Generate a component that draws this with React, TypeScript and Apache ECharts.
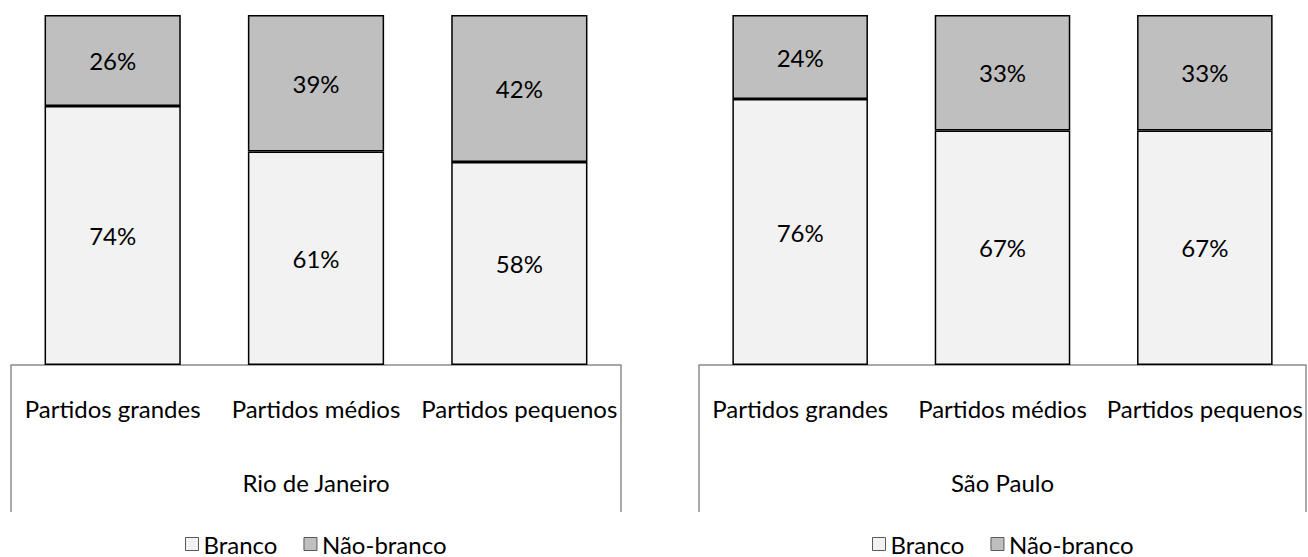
import React, { useEffect, useRef } from "react";
import * as echarts from "echarts";

// Party size categories shown under each state
const categories = ["Partidos grandes", "Partidos médios", "Partidos pequenos"];
const states = ["Rio de Janeiro", "São Paulo"];
const seriesNames = ["Branco", "Não-branco"];

// Share of candidates (%) by race
const rioBranco = [74, 61, 58];
const rioNaoBranco = [26, 39, 42];
const spBranco = [76, 67, 67];
const spNaoBranco = [24, 33, 33];

const FONT = "Lato, 'Open Sans', sans-serif";
const TEXT_SIZE = 24;
const LIGHT = "#f2f2f2";
const DARK = "#bfbfbf";
const FRAME = "#8c8c8c";

// Layout of the two panels
const PANELS = [
  { left: 11, width: 610 },
  { left: 699, width: 607 },
];
const GRID_TOP = 15;
const GRID_HEIGHT = 350;
const FRAME_BOTTOM = 512;

export default function App() {
  const ref = useRef<HTMLDivElement>(null);

  useEffect(() => {
    document.body.style.margin = "0";
    if (!ref.current) return;
    const chart = echarts.init(ref.current, undefined, { renderer: "svg" });

    const values = [
      [rioBranco, rioNaoBranco],
      [spBranco, spNaoBranco],
    ];

    const series: any[] = [];
    values.forEach((pair, gi) => {
      pair.forEach((data, si) => {
        series.push({
          type: "bar",
          name: seriesNames[si],
          xAxisIndex: gi,
          yAxisIndex: gi,
          stack: "total" + gi,
          data,
          barCategoryGap: "33%",
          itemStyle: {
            color: si === 0 ? LIGHT : DARK,
            borderColor: "#000",
            borderWidth: 1.5,
          },
          label: {
            show: true,
            position: "inside",
            formatter: "{c}%",
            color: "#000",
            fontFamily: FONT,
            fontSize: TEXT_SIZE,
          },
          emphasis: { disabled: true },
        });
      });
    });

    const axisBottom = GRID_TOP + GRID_HEIGHT;
    const frameLines: any[] = [];
    PANELS.forEach((p) => {
      [p.left, p.left + p.width].forEach((x) => {
        frameLines.push({
          type: "line",
          shape: { x1: x, y1: axisBottom, x2: x, y2: FRAME_BOTTOM },
          style: { stroke: FRAME, lineWidth: 1.5 },
          silent: true,
        });
      });
    });

    chart.setOption({
      animation: false,
      grid: PANELS.map((p) => ({
        left: p.left,
        width: p.width,
        top: GRID_TOP,
        height: GRID_HEIGHT,
      })),
      xAxis: PANELS.map((_, gi) => ({
        type: "category",
        gridIndex: gi,
        data: categories,
        axisLine: { show: true, lineStyle: { color: FRAME, width: 1.5 } },
        axisTick: { show: false },
        axisLabel: {
          margin: 43,
          verticalAlign: "middle",
          color: "#000",
          fontFamily: FONT,
          fontSize: TEXT_SIZE,
          interval: 0,
        },
        name: states[gi],
        nameLocation: "middle",
        nameGap: 117,
        nameTextStyle: {
          color: "#000",
          fontFamily: FONT,
          fontSize: TEXT_SIZE,
          verticalAlign: "middle",
        },
      })),
      yAxis: PANELS.map((_, gi) => ({
        type: "value",
        gridIndex: gi,
        min: 0,
        max: 100,
        show: false,
        splitLine: { show: false },
      })),
      legend: [
        { left: 185, top: 532 },
        { left: 872, top: 532 },
      ].map((pos) => ({
        ...pos,
        data: seriesNames,
        padding: 0,
        itemWidth: 13,
        itemHeight: 13,
        itemGap: 26,
        icon: "rect",
        selectedMode: false,
        itemStyle: { borderColor: "#595959", borderWidth: 1 },
        textStyle: {
          color: "#000",
          fontFamily: FONT,
          fontSize: TEXT_SIZE,
          lineHeight: 24,
        },
      })),
      graphic: frameLines,
      series,
    });

    return () => chart.dispose();
  }, []);

  return <div ref={ref} style={{ width: 1308, height: 557 }} />;
}
